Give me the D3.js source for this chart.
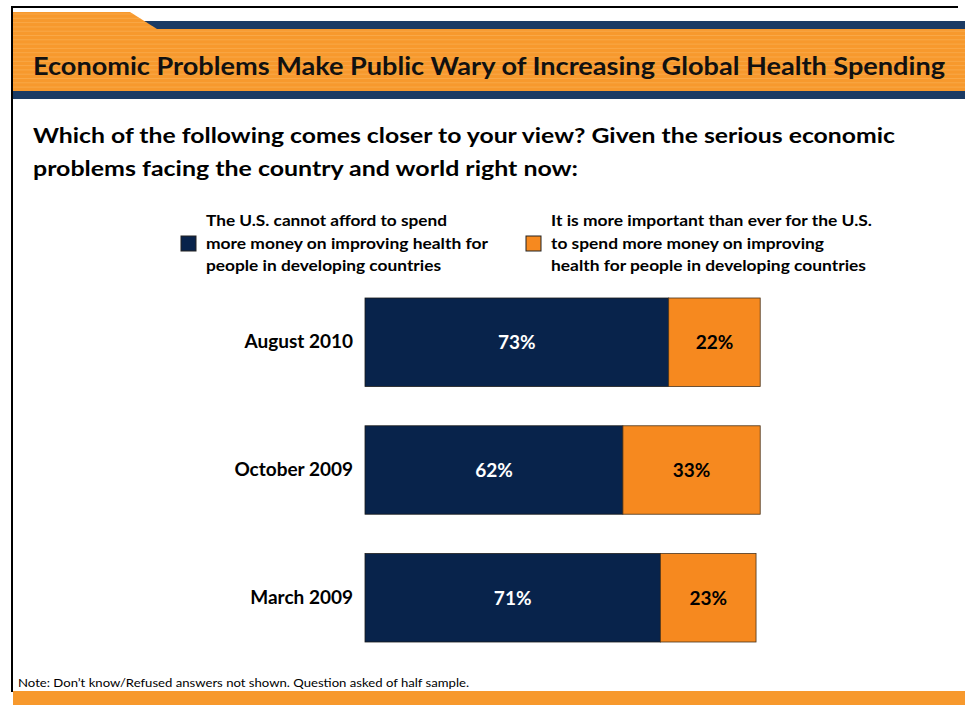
<!DOCTYPE html>
<html>
<head>
<meta charset="utf-8">
<script src="https://cdn.jsdelivr.net/npm/d3@7"></script>
<style>
  html, body { margin: 0; padding: 0; background: #ffffff; }
  svg { display: block; font-family: Lato, "Open Sans", sans-serif; }
</style>
</head>
<body>
<svg id="chart" width="965" height="705"></svg>
<script>
// Survey periods and responses (percent)
const categories = ["August 2010", "October 2009", "March 2009"];
const cannotAfford = [73, 62, 71];
const moreImportant = [22, 33, 23];

const seriesNames = [
  ["The U.S. cannot afford to spend", "more money on improving health for", "people in developing countries"],
  ["It is more important than ever for the U.S.", "to spend more money on improving", "health for people in developing countries"]
];
const titleText = "Economic Problems Make Public Wary of Increasing Global Health Spending";
const questionLines = [
  "Which of the following comes closer to your view? Given the serious economic",
  "problems facing the country and world right now:"
];
const noteText = "Note: Don\u2019t know/Refused answers not shown.  Question asked of half sample.";

const NAVY = "#08234b";
const ORANGE = "#f6891f";
const HEAD_ORANGE = "#f7992d";
const HEAD_NAVY = "#1b3b64";

const svg = d3.select("#chart");

// ---- slide frame ----
svg.append("rect").attr("x", 11).attr("y", 6).attr("width", 947).attr("height", 2).attr("fill", "#000");
svg.append("rect").attr("x", 11).attr("y", 6).attr("width", 2).attr("height", 686).attr("fill", "#000");

// ---- header banner ----
const head = svg.append("g");
head.append("rect").attr("x", 140).attr("y", 21).attr("width", 825).attr("height", 9).attr("fill", HEAD_NAVY);
head.append("rect").attr("x", 13).attr("y", 90).attr("width", 952).attr("height", 9).attr("fill", HEAD_NAVY);
const tabPath = "M13,12 L130,12 L157,29 L965,29 L965,91 L13,91 Z";
svg.append("clipPath").attr("id", "tabClip").append("path").attr("d", tabPath);
head.append("path").attr("d", tabPath).attr("fill", HEAD_ORANGE);
const stripes = head.append("g").attr("clip-path", "url(#tabClip)");
stripes.selectAll("line").data(d3.range(14, 91, 4.3)).join("line")
  .attr("x1", 13).attr("x2", 965).attr("y1", d => d).attr("y2", d => d)
  .attr("stroke", "#fbb55e").attr("stroke-width", 1).attr("opacity", 0.55);

head.append("text").attr("x", 33).attr("y", 75)
  .attr("font-size", 24).attr("font-weight", 700).attr("fill", "#111")
  .attr("textLength", 912).attr("lengthAdjust", "spacingAndGlyphs")
  .text(titleText);

// ---- question ----
const qLen = [862, 545];
svg.append("g").selectAll("text").data(questionLines).join("text")
  .attr("x", 33).attr("y", (d, i) => 143 + i * 33)
  .attr("font-size", 21).attr("font-weight", 700).attr("fill", "#000")
  .attr("textLength", (d, i) => qLen[i]).attr("lengthAdjust", "spacingAndGlyphs")
  .text(d => d);

// ---- legend ----
const legendX = [181, 526];
const legendLen = [[241, 282, 235], [321, 273, 315]];
const colors = [NAVY, ORANGE];
const legend = svg.append("g");
seriesNames.forEach((lines, s) => {
  legend.append("rect").attr("x", legendX[s]).attr("y", 236).attr("width", 15).attr("height", 15)
    .attr("fill", colors[s]).attr("stroke", "#222").attr("stroke-width", 1);
  legend.selectAll(null).data(lines).join("text")
    .attr("x", legendX[s] + 25).attr("y", (d, i) => 226 + i * 22.5)
    .attr("font-size", 15).attr("font-weight", 700).attr("fill", "#000")
    .attr("textLength", (d, i) => legendLen[s][i]).attr("lengthAdjust", "spacingAndGlyphs")
    .text(d => d);
});

// ---- bars ----
const x = d3.scaleLinear().domain([0, 100]).range([365, 781]);
const y = d3.scaleBand().domain(categories).range([298, 642]).paddingInner(0.308).paddingOuter(0);

const rows = categories.map((c, i) => ({ cat: c, a: cannotAfford[i], b: moreImportant[i] }));
const chart = svg.append("g");

const rowG = chart.selectAll("g.row").data(rows).join("g").attr("class", "row");

rowG.append("rect")
  .attr("x", x(0)).attr("y", d => y(d.cat))
  .attr("width", d => x(d.a) - x(0)).attr("height", y.bandwidth())
  .attr("fill", NAVY).attr("stroke", "#1a1a1a").attr("stroke-width", 0.8);

rowG.append("rect")
  .attr("x", d => x(d.a)).attr("y", d => y(d.cat))
  .attr("width", d => x(d.a + d.b) - x(d.a)).attr("height", y.bandwidth())
  .attr("fill", ORANGE).attr("stroke", "#4a3319").attr("stroke-width", 0.8);

rowG.append("text")
  .attr("x", d => (x(0) + x(d.a)) / 2).attr("y", d => y(d.cat) + y.bandwidth() / 2 + 7)
  .attr("text-anchor", "middle").attr("font-size", 19).attr("font-weight", 700).attr("fill", "#fff")
  .text(d => d.a + "%");

rowG.append("text")
  .attr("x", d => (x(d.a) + x(d.a + d.b)) / 2).attr("y", d => y(d.cat) + y.bandwidth() / 2 + 7)
  .attr("text-anchor", "middle").attr("font-size", 19).attr("font-weight", 700).attr("fill", "#000")
  .text(d => d.b + "%");

// category axis labels
const yAxis = d3.axisLeft(y).tickSize(0).tickPadding(12);
const axisG = chart.append("g").attr("transform", `translate(${x(0)},0)`).call(yAxis);
axisG.select(".domain").remove();
axisG.selectAll("text")
  .attr("font-family", "Lato, 'Open Sans', sans-serif")
  .attr("font-size", 19).attr("font-weight", 700).attr("fill", "#000");

// ---- note and footer ----
svg.append("text").attr("x", 18).attr("y", 687)
  .attr("font-size", 10.5).attr("fill", "#000")
  .attr("textLength", 451).attr("lengthAdjust", "spacingAndGlyphs")
  .text(noteText);
svg.append("rect").attr("x", 13).attr("y", 691).attr("width", 952).attr("height", 14).attr("fill", HEAD_ORANGE);
</script>
</body>
</html>
